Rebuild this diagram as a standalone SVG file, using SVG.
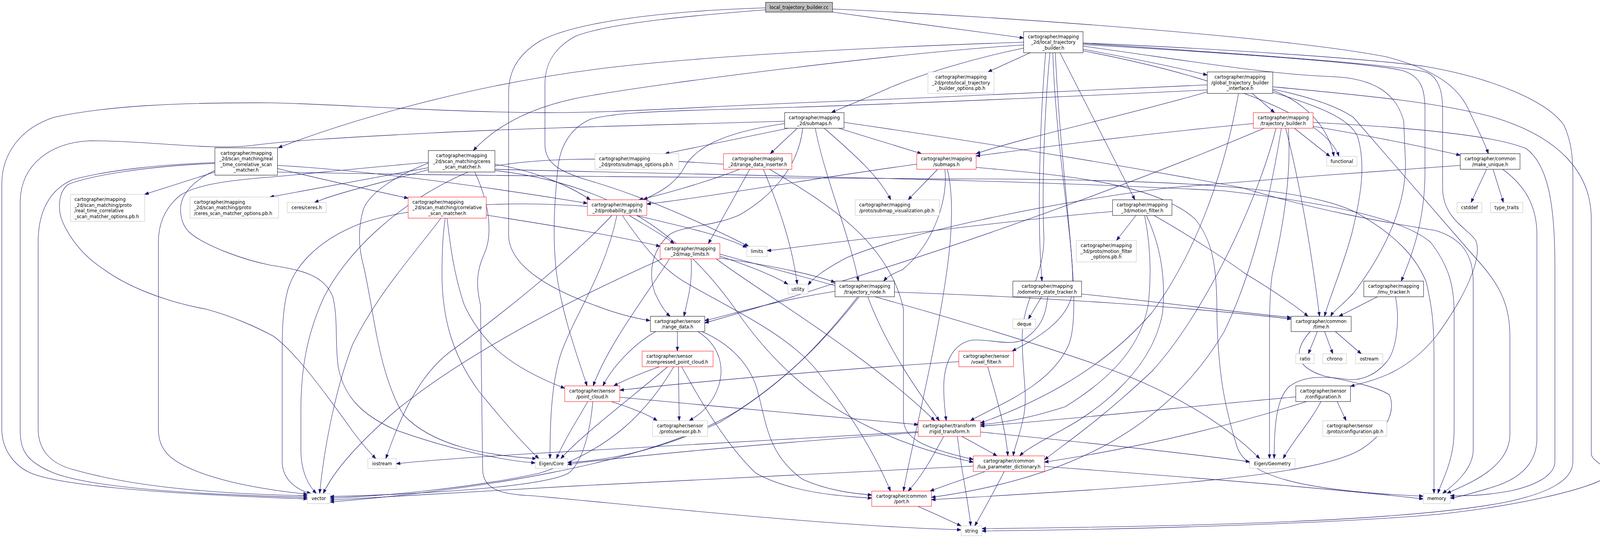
<svg xmlns="http://www.w3.org/2000/svg" width="4480" height="1376" viewBox="0 0 4480 1376">
<defs>
<marker id="ah" markerUnits="userSpaceOnUse" markerWidth="12" markerHeight="9" refX="11" refY="4.5" orient="auto"><path d="M0,0.5 L11,4.5 L0,8.5 z" fill="#191970" stroke="#191970" stroke-width="1"/></marker>
</defs>
<style>
.nd rect{fill:#fff;stroke:#000;stroke-width:1}
.rd rect{stroke:#f00}
.lf rect{stroke:#bfbfbf}
.rt rect{fill:#bfbfbf}
text{font-family:"DejaVu Sans","Liberation Sans",sans-serif;font-size:12.6px;fill:#000;text-anchor:middle}
text.l{text-anchor:start}
#edges path{fill:none;stroke:#191970;stroke-width:1.1;marker-end:url(#ah)}
</style>
<rect width="4480" height="1376" fill="#fff"/>
<g id="diagram" transform="matrix(0.92143 0 0 1 0 0)">
<g id="edges">
<path d="M2313,31 C2480,52 2700,80 2844,97"/>
<path d="M2127,25 C1950,38 1700,57 1600,92 C1533,125 1514,170 1514,215 L1514,370 C1514,420 1560,440 1630,460 C1800,505 1960,575 2080,630"/>
<path d="M2127,20 C1850,28 1600,55 1500,105 C1430,145 1413,190 1413,240 L1413,600 C1413,690 1560,750 1650,780 C1720,805 1770,815 1806,820"/>
<path d="M2313,23 C2900,48 3600,100 3850,145 C4000,180 4055,230 4080,280 C4105,330 4125,365 4135,393"/>
<path d="M2862,135 L2745,184"/>
<path d="M3009,126 C3150,150 3260,170 3354,192"/>
<path d="M2844,123 C2700,150 2560,190 2470,225 C2390,258 2340,275 2310,288"/>
<path d="M2844,108 C2500,118 2000,140 1700,172 C1300,215 950,315 773,378"/>
<path d="M2844,115 C2500,135 1850,210 1620,248 C1480,272 1380,320 1315,385"/>
<path d="M2945,135 L3153,511"/>
<path d="M2905,135 C2890,300 2880,560 2895,719"/>
<path d="M2925,135 C2935,400 2985,620 2980,740 C2975,820 2870,870 2812,898"/>
<path d="M3009,114 C3400,135 3800,160 3895,180 C3950,195 3959,230 3959,280 L3959,440 C3959,560 3925,650 3893,719"/>
<path d="M3009,118 C3300,155 3520,190 3700,196 C3820,200 3880,240 3900,310 L3905,420 C3905,560 3810,690 3760,750 C3730,780 3705,795 3697,809"/>
<path d="M3009,111 C3500,140 3900,168 3964,185 C4000,200 4008,240 4008,280 L4008,480 C4008,560 4080,585 4100,615 C4120,660 4070,760 3990,860 C3910,950 3830,970 3752,988"/>
<path d="M2917,135 C2900,300 2895,500 2900,600 C2905,700 2840,770 2840,860 C2840,960 2855,1000 2845,1060 C2835,1110 2818,1145 2815,1166"/>
<path d="M2932,135 C2950,500 3010,780 2970,880 C2920,990 2760,1040 2696,1076"/>
<path d="M3009,110 C3400,125 3800,150 3960,170 C4150,200 4300,260 4345,320 C4365,360 4370,400 4370,450 L4370,1180 C4370,1230 4300,1262 4180,1285 C3950,1325 3500,1345 2728,1352"/>
<path d="M3009,130 C3350,190 3680,290 3720,400"/>
<path d="M3479,239 L3541,288"/>
<path d="M3354,235 C3150,290 2850,350 2712,393"/>
<path d="M3354,217 C3000,232 2600,250 2220,263 C1900,275 1700,290 1480,288 C1200,285 900,265 750,263 C500,262 300,270 150,300 C50,330 5,400 5,470 L5,1097 C5,1150 40,1190 81,1208 C150,1238 400,1262 854,1276"/>
<path d="M3536,222 C3800,245 4000,262 4150,300 C4330,350 4421,440 4421,560 L4421,1160 C4421,1180 4470,1195 4470,1212 C4460,1240 4250,1290 4000,1315 C3700,1340 3100,1355 2728,1358"/>
<path d="M3536,228 C3650,250 3720,275 3760,300 L4090,650 C4160,720 4195,770 4195,860 L4195,1110 C4195,1200 4070,1240 4020,1262"/>
<path d="M3536,231 C3620,260 3690,320 3706,400"/>
<path d="M3536,236 C3650,268 3750,300 3772,350 C3795,420 3782,500 3755,600 C3728,690 3690,770 3680,809"/>
<path d="M3354,230 C2900,250 2400,270 2000,280 C1800,285 1700,290 1640,305 C1580,330 1555,380 1550,430 C1540,520 1535,600 1545,690 C1560,800 1600,900 1631,987"/>
<path d="M3441,239 C3400,450 3320,650 3200,800 C3050,960 2850,1040 2724,1082"/>
<path d="M3596,328 L3695,400"/>
<path d="M3648,323 C3850,355 3950,375 4057,397"/>
<path d="M3482,316 C3200,340 2950,370 2712,399"/>
<path d="M3648,313 C3900,325 4150,345 4240,380 C4300,420 4320,520 4320,680 L4320,1180 C4320,1215 4270,1240 4200,1255 C4110,1270 4060,1268 4029,1268"/>
<path d="M3545,328 C3500,500 3350,800 3200,950 C3050,1080 2950,1140 2902,1176"/>
<path d="M3560,328 C3530,500 3480,700 3400,850 C3250,1080 3000,1220 2588,1272"/>
<path d="M3572,328 C3620,500 3650,690 3666,809"/>
<path d="M3512,328 C3200,450 2700,620 2300,730 C2100,790 2000,815 1958,826"/>
<path d="M3579,328 C3590,450 3560,600 3535,700 C3528,740 3527,800 3527,850 L3527,1173"/>
<path d="M2190,328 L1848,393"/>
<path d="M2215,328 L2140,393"/>
<path d="M2330,328 L2560,393"/>
<path d="M2290,328 C2380,400 2440,450 2475,511"/>
<path d="M2180,316 C2000,340 1930,380 1900,430 C1870,480 1810,500 1788,511"/>
<path d="M2230,328 C2220,420 2150,500 2054,550 C1980,580 1900,576 1860,600 C1810,640 1800,700 1820,750 C1835,780 1850,800 1862,809"/>
<path d="M2265,328 C2290,450 2360,600 2385,719"/>
<path d="M2180,310 C1900,318 1500,326 1200,340 C950,352 800,360 700,372 C580,385 420,360 250,360 C140,365 56,420 56,520 L56,1097 C56,1150 70,1180 150,1210 C250,1245 500,1264 854,1272"/>
<path d="M2345,313 C2700,360 3100,420 3450,480 C3700,550 3900,575 3990,590 C4060,610 4093,650 4093,720 L4093,1150 C4093,1200 4040,1240 4008,1262"/>
<path d="M597,440 L402,497"/>
<path d="M597,416 C450,420 300,435 200,460 C130,490 106,550 106,620 L106,1097 C106,1150 140,1185 200,1200 C350,1240 550,1262 854,1268"/>
<path d="M597,418 C400,425 250,450 191,471 C160,490 160,540 175,570 C200,620 240,660 290,690 C350,730 450,770 574,791 C650,810 720,840 760,860 C820,900 900,1000 979,1102 C1010,1140 1030,1160 1044,1173"/>
<path d="M771,431 C900,460 1050,490 1134,507"/>
<path d="M771,423 C1000,435 1300,470 1632,520"/>
<path d="M597,436 C540,460 505,495 502,528 C500,560 510,580 526,594 C570,630 680,665 750,678 C830,690 900,700 925,760 C940,820 930,880 940,940 C955,1010 1000,1060 1100,1100 C1250,1150 1400,1178 1487,1184"/>
<path d="M771,440 C1400,452 2200,455 2800,458 C3300,462 3620,480 3760,540 C3880,600 3935,660 3962,720 C3978,780 3984,830 3984,900 L3984,1262"/>
<path d="M1190,429 L750,504"/>
<path d="M1190,434 C1050,470 930,495 874,518"/>
<path d="M1190,415 C1000,430 850,445 750,453 C620,462 540,475 500,500 C460,530 440,570 440,620 L440,1097 C440,1150 470,1180 560,1210 C650,1240 760,1255 854,1264"/>
<path d="M1190,417 C1100,450 1030,490 1010,534 C995,580 995,630 1010,680 C1040,800 1050,950 1120,1060 C1200,1140 1350,1165 1490,1173"/>
<path d="M1375,420 C1500,440 1590,480 1640,511"/>
<path d="M1375,433 C2000,448 2800,458 3400,488 C3700,520 3900,560 3975,620 C4025,680 4040,730 4040,800 L4040,1100 C4040,1180 4005,1230 3995,1262"/>
<path d="M1375,436 C1700,470 1900,600 2050,800 C2200,1000 2400,1120 2704,1182"/>
<path d="M1319,440 C1360,520 1370,600 1345,650 C1320,700 1325,740 1335,780 L1341,1200 C1341,1255 1400,1265 1480,1268 C1800,1295 2300,1345 2670,1355"/>
<path d="M2605,433 L2523,511"/>
<path d="M2547,420 C2300,450 2000,500 1797,522"/>
<path d="M2632,433 C2650,500 2645,600 2631,690 C2600,900 2530,1150 2510,1256"/>
<path d="M2625,433 C2635,500 2600,620 2507,690 C2480,700 2465,708 2455,719"/>
<path d="M2712,428 C2900,445 3200,460 3320,560 C3375,620 3381,700 3381,813 C3385,950 3400,1035 3438,1146 C3470,1215 3600,1255 3954,1269"/>
<path d="M2055,433 C1950,470 1830,500 1775,511"/>
<path d="M2083,433 L1968,623"/>
<path d="M2121,433 C2160,520 2200,620 2215,727"/>
<path d="M2138,433 C2300,520 2470,620 2510,790 L2510,1070 C2510,1120 2560,1145 2704,1175"/>
<path d="M2010,420 C1700,400 1450,400 1300,440 C1100,520 960,650 900,760 C850,860 836,950 836,1050 L836,1150 C836,1210 860,1245 879,1262"/>
<path d="M1767,551 C1900,580 2000,600 2075,633"/>
<path d="M1748,551 C1800,580 1840,600 1873,623"/>
<path d="M1632,528 C1400,510 1100,530 980,580 C880,620 820,680 800,740 C785,790 784,850 784,900 L784,1180 C784,1230 830,1255 864,1262"/>
<path d="M1729,551 C1780,620 1830,680 1900,720 C2050,800 2200,860 2280,960 C2380,1080 2440,1180 2474,1256"/>
<path d="M1700,551 C1600,650 1400,800 1250,900 C1150,970 1100,1100 1072,1173"/>
<path d="M1714,551 C1680,700 1600,800 1560,900 C1530,980 1528,1100 1528,1173"/>
<path d="M1351,550 C1500,572 1700,600 1834,630"/>
<path d="M1225,558 C1150,650 1050,750 980,880 C930,1000 900,1150 888,1262"/>
<path d="M1237,558 C1230,600 1228,650 1228,700 C1228,800 1250,900 1330,1000 C1400,1080 1460,1140 1497,1173"/>
<path d="M1242,558 C1250,620 1260,700 1290,780 C1340,880 1420,940 1569,993"/>
<path d="M3156,551 L3102,615"/>
<path d="M3091,541 C2900,555 2500,600 2230,630 C2180,636 2150,640 2131,641"/>
<path d="M3206,551 C3300,600 3400,660 3460,700 C3550,750 3610,790 3634,809"/>
<path d="M3180,551 C3195,620 3200,700 3190,780 C3170,880 3100,960 2960,1040 C2860,1070 2780,1082 2724,1086"/>
<path d="M3185,551 C3220,620 3240,700 3230,800 C3200,950 3050,1050 2950,1100 C2890,1130 2850,1150 2833,1166"/>
<path d="M4130,433 L4087,518"/>
<path d="M4148,433 L4177,518"/>
<path d="M4175,433 C4230,470 4270,520 4270,600 L4270,1120 C4270,1180 4230,1222 4150,1245 C4090,1262 4050,1272 4029,1274"/>
<path d="M4057,423 C3800,440 3500,460 3250,480 C2900,520 2500,600 2350,660 C2290,690 2260,710 2245,729"/>
<path d="M2000,655 C2080,680 2150,705 2189,727"/>
<path d="M2000,660 C2150,680 2250,700 2320,722"/>
<path d="M1840,662 C1600,760 1300,900 1100,1050 C1000,1130 930,1200 898,1262"/>
<path d="M2000,650 C2400,750 2800,850 3100,950 C3300,1020 3420,1100 3500,1173"/>
<path d="M1920,662 C1925,720 1910,770 1900,809"/>
<path d="M1860,662 C1800,750 1690,880 1648,987"/>
<path d="M1990,662 C2100,740 2400,900 2597,1076"/>
<path d="M2485,747 C2900,760 3300,785 3587,816"/>
<path d="M2411,759 C2460,880 2540,990 2610,1076"/>
<path d="M2387,759 C2300,860 2200,960 2050,1050 C1800,1190 1300,1255 917,1284"/>
<path d="M2383,759 C2280,880 2180,980 2000,1080 C1800,1165 1650,1180 1577,1183"/>
<path d="M2320,745 C2150,770 2050,800 1958,820"/>
<path d="M2894,759 L2857,816"/>
<path d="M3005,752 C3200,770 3400,795 3587,812"/>
<path d="M2911,759 C2905,800 2899,835 2842,870 C2800,885 2746,866 2700,870 C2640,880 2622,940 2622,991 C2622,1030 2626,1055 2629,1076"/>
<path d="M3827,759 L3720,809"/>
<path d="M3877,759 C3890,820 3880,900 3849,929 C3820,960 3780,975 3740,970 C3680,962 3620,960 3580,990 C3548,1020 3540,1080 3540,1173"/>
<path d="M1882,848 L1882,898"/>
<path d="M1822,848 C1760,880 1700,940 1675,987"/>
<path d="M1939,848 C2010,890 2020,960 1980,1020 C1960,1050 1935,1065 1915,1076"/>
<path d="M1950,848 C2030,880 2080,930 2102,991 C2130,1080 2130,1160 2230,1226 C2300,1255 2370,1262 2422,1266"/>
<path d="M3660,848 L3635,905"/>
<path d="M3680,848 L3703,905"/>
<path d="M3710,848 L3782,905"/>
<path d="M3640,848 C3590,900 3600,940 3680,962 C3750,975 3830,990 3860,1010 C3880,1050 3850,1110 3780,1150 C3650,1220 3200,1245 2588,1278"/>
<path d="M1832,938 C1780,955 1740,970 1705,987"/>
<path d="M1855,938 C1750,1020 1620,1110 1558,1173"/>
<path d="M1872,938 C1800,1050 1700,1150 1500,1210 C1300,1250 1050,1270 917,1274"/>
<path d="M1885,938 L1887,1076"/>
<path d="M1894,938 C1960,1050 2030,1150 2100,1210 C2200,1262 2350,1270 2422,1274"/>
<path d="M2664,925 C2400,940 2000,970 1722,998"/>
<path d="M2744,938 C2770,1020 2795,1100 2800,1166"/>
<path d="M1633,1027 C1600,1080 1565,1130 1546,1173"/>
<path d="M1647,1027 C1640,1100 1620,1180 1580,1210 C1500,1250 1100,1266 917,1270"/>
<path d="M1698,1027 C1760,1045 1800,1060 1826,1076"/>
<path d="M1722,1016 C2000,1040 2350,1070 2551,1086"/>
<path d="M3715,1027 L3740,1076"/>
<path d="M3670,1027 C3640,1080 3590,1130 3565,1173"/>
<path d="M3630,1027 C3450,1080 3200,1140 2902,1182"/>
<path d="M3600,1015 C3300,1040 3000,1070 2724,1090"/>
<path d="M2551,1104 C2200,1122 1700,1150 1480,1160 C1300,1170 1180,1178 1101,1186"/>
<path d="M2551,1106 C2200,1130 1800,1160 1577,1188"/>
<path d="M2660,1116 C2670,1200 2690,1280 2697,1345"/>
<path d="M2724,1105 C3000,1130 3300,1160 3472,1181"/>
<path d="M2672,1116 C2710,1135 2740,1150 2770,1166"/>
<path d="M2622,1116 C2590,1170 2560,1220 2523,1256"/>
<path d="M2704,1192 C2300,1210 1500,1245 917,1279"/>
<path d="M2737,1206 C2680,1225 2630,1240 2584,1256"/>
<path d="M2790,1206 C2760,1260 2730,1310 2708,1345"/>
<path d="M2902,1193 C3300,1220 3700,1250 3954,1276"/>
<path d="M2550,1295 C2600,1315 2640,1332 2670,1345"/>
</g>
<g id="n_cc" class="nd rt"><rect x="2127" y="6" width="186" height="25"/><text x="2220" y="22.9">local_trajectory_builder.cc</text></g>
<g id="n_ltb" class="nd"><rect x="2844" y="81" width="165" height="54"/><text x="2926.5" y="97.9">cartographer/mapping</text><text x="2926.5" y="112.4">_2d/local_trajectory</text><text x="2926.5" y="126.9">_builder.h</text></g>
<g id="n_opt" class="nd lf"><rect x="2578" y="184" width="184" height="55"/><text x="2670" y="201.4">cartographer/mapping</text><text x="2670" y="215.9">_2d/proto/local_trajectory</text><text x="2670" y="230.4">_builder_options.pb.h</text></g>
<g id="n_gti" class="nd"><rect x="3354" y="184" width="182" height="55"/><text x="3445" y="201.4">cartographer/mapping</text><text x="3445" y="215.9">/global_trajectory_builder</text><text x="3445" y="230.4">_interface.h</text></g>
<g id="n_sm2" class="nd"><rect x="2180" y="288" width="165" height="40"/><text x="2262.5" y="305.1">cartographer/mapping</text><text x="2262.5" y="319.6">_2d/submaps.h</text></g>
<g id="n_tb" class="nd rd"><rect x="3482" y="288" width="166" height="40"/><text x="3565" y="305.1">cartographer/mapping</text><text x="3565" y="319.6">/trajectory_builder.h</text></g>
<g id="n_rt" class="nd"><rect x="597" y="378" width="174" height="70"/><text x="684" y="395.6">cartographer/mapping</text><text x="684" y="410.1">_2d/scan_matching/real</text><text x="684" y="424.6">_time_correlative_scan</text><text x="684" y="439.1">_matcher.h</text></g>
<g id="n_ce" class="nd"><rect x="1190" y="385" width="185" height="55"/><text x="1282.5" y="402.4">cartographer/mapping</text><text x="1282.5" y="416.9">_2d/scan_matching/ceres</text><text x="1282.5" y="431.4">_scan_matcher.h</text></g>
<g id="n_msm" class="nd rd"><rect x="2547" y="393" width="165" height="40"/><text x="2629.5" y="410.1">cartographer/mapping</text><text x="2629.5" y="424.6">/submaps.h</text></g>
<g id="n_rdi" class="nd rd"><rect x="2010" y="393" width="190" height="40"/><text x="2105" y="410.1">cartographer/mapping</text><text x="2105" y="424.6">_2d/range_data_inserter.h</text></g>
<g id="n_smo" class="nd lf"><rect x="1653" y="393" width="233" height="40"/><text class="l" x="1664" y="410.1">cartographer/mapping</text><text class="l" x="1664" y="424.6">_2d/proto/submaps_options.pb.h</text></g>
<g id="n_fun" class="nd lf"><rect x="3686" y="400" width="84" height="25"/><text x="3728" y="416.9">functional</text></g>
<g id="n_mu" class="nd"><rect x="4057" y="393" width="166" height="40"/><text x="4140" y="410.1">cartographer/common</text><text x="4140" y="424.6">/make_unique.h</text></g>
<g id="n_rto" class="nd lf"><rect x="196" y="497" width="206" height="69"/><text class="l" x="207" y="514.1">cartographer/mapping</text><text class="l" x="207" y="528.6">_2d/scan_matching/proto</text><text class="l" x="207" y="543.1">/real_time_correlative</text><text class="l" x="207" y="557.6">_scan_matcher_options.pb.h</text></g>
<g id="n_ceo" class="nd lf"><rect x="528" y="504" width="246" height="54"/><text class="l" x="539" y="520.9">cartographer/mapping</text><text class="l" x="539" y="535.4">_2d/scan_matching/proto</text><text class="l" x="539" y="549.9">/ceres_scan_matcher_options.pb.h</text></g>
<g id="n_ceres" class="nd lf"><rect x="798" y="518" width="108" height="26"/><text x="852" y="535.4">ceres/ceres.h</text></g>
<g id="n_cor" class="nd rd"><rect x="1134" y="504" width="217" height="54"/><text class="l" x="1146" y="520.9">cartographer/mapping</text><text class="l" x="1146" y="535.4">_2d/scan_matching/correlative</text><text x="1242.5" y="549.9">_scan_matcher.h</text></g>
<g id="n_pg" class="nd rd"><rect x="1632" y="511" width="165" height="40"/><text x="1714.5" y="528.1">cartographer/mapping</text><text x="1714.5" y="542.6">_2d/probability_grid.h</text></g>
<g id="n_sv" class="nd lf"><rect x="2376" y="511" width="234" height="40"/><text class="l" x="2387" y="528.1">cartographer/mapping</text><text class="l" x="2387" y="542.6">/proto/submap_visualization.pb.h</text></g>
<g id="n_mf" class="nd"><rect x="3091" y="511" width="165" height="40"/><text x="3173.5" y="528.1">cartographer/mapping</text><text x="3173.5" y="542.6">_3d/motion_filter.h</text></g>
<g id="n_cst" class="nd lf"><rect x="4048" y="518" width="69" height="26"/><text x="4082.5" y="535.4">cstddef</text></g>
<g id="n_tt" class="nd lf"><rect x="4141" y="518" width="90" height="26"/><text x="4186" y="535.4">type_traits</text></g>
<g id="n_mfo" class="nd lf"><rect x="2990" y="615" width="167" height="55"/><text x="3073.5" y="632.4">cartographer/mapping</text><text x="3073.5" y="646.9">_3d/proto/motion_filter</text><text x="3073.5" y="661.4">_options.pb.h</text></g>
<g id="n_ml" class="nd rd"><rect x="1834" y="623" width="166" height="39"/><text x="1917" y="639.6">cartographer/mapping</text><text x="1917" y="654.1">_2d/map_limits.h</text></g>
<g id="n_lim" class="nd lf"><rect x="2075" y="630" width="56" height="26"/><text x="2103" y="647.4">limits</text></g>
<g id="n_ut" class="nd lf"><rect x="2189" y="727" width="56" height="25"/><text x="2217" y="743.9">utility</text></g>
<g id="n_tn" class="nd"><rect x="2320" y="719" width="165" height="40"/><text x="2402.5" y="736.1">cartographer/mapping</text><text x="2402.5" y="750.6">/trajectory_node.h</text></g>
<g id="n_ost" class="nd"><rect x="2814" y="719" width="191" height="40"/><text x="2909.5" y="736.1">cartographer/mapping</text><text x="2909.5" y="750.6">/odometry_state_tracker.h</text></g>
<g id="n_imu" class="nd"><rect x="3789" y="719" width="166" height="40"/><text x="3872" y="736.1">cartographer/mapping</text><text x="3872" y="750.6">/imu_tracker.h</text></g>
<g id="n_rd" class="nd"><rect x="1807" y="809" width="151" height="39"/><text x="1882.5" y="825.6">cartographer/sensor</text><text x="1882.5" y="840.1">/range_data.h</text></g>
<g id="n_time" class="nd"><rect x="3587" y="809" width="167" height="39"/><text x="3670.5" y="825.6">cartographer/common</text><text x="3670.5" y="840.1">/time.h</text></g>
<g id="n_dq" class="nd lf"><rect x="2814" y="816" width="63" height="25"/><text x="2845.5" y="832.9">deque</text></g>
<g id="n_cpc" class="nd rd"><rect x="1784" y="898" width="197" height="40"/><text class="l" x="1796" y="915.1">cartographer/sensor</text><text class="l" x="1796" y="929.6">/compressed_point_cloud.h</text></g>
<g id="n_vox" class="nd rd"><rect x="2664" y="898" width="152" height="40"/><text x="2740" y="915.1">cartographer/sensor</text><text x="2740" y="929.6">/voxel_filter.h</text></g>
<g id="n_rat" class="nd lf"><rect x="3600" y="905" width="51" height="25"/><text x="3625.5" y="921.9">ratio</text></g>
<g id="n_chr" class="nd lf"><rect x="3675" y="905" width="66" height="25"/><text x="3708" y="921.9">chrono</text></g>
<g id="n_ost2" class="nd lf"><rect x="3766" y="905" width="76" height="25"/><text x="3804" y="921.9">ostream</text></g>
<g id="n_pc" class="nd rd"><rect x="1569" y="987" width="153" height="40"/><text x="1645.5" y="1004.1">cartographer/sensor</text><text x="1645.5" y="1018.6">/point_cloud.h</text></g>
<g id="n_cfg" class="nd"><rect x="3600" y="987" width="152" height="40"/><text x="3676" y="1004.1">cartographer/sensor</text><text x="3676" y="1018.6">/configuration.h</text></g>
<g id="n_spb" class="nd lf"><rect x="1813" y="1076" width="153" height="40"/><text x="1889.5" y="1093.1">cartographer/sensor</text><text x="1889.5" y="1107.6">/proto/sensor.pb.h</text></g>
<g id="n_rig" class="nd rd"><rect x="2551" y="1076" width="173" height="40"/><text x="2637.5" y="1093.1">cartographer/transform</text><text x="2637.5" y="1107.6">/rigid_transform.h</text></g>
<g id="n_cpb" class="nd lf"><rect x="3675" y="1076" width="178" height="40"/><text class="l" x="3686" y="1093.1">cartographer/sensor</text><text class="l" x="3686" y="1107.6">/proto/configuration.pb.h</text></g>
<g id="n_ios" class="nd lf"><rect x="1022" y="1173" width="79" height="25"/><text x="1061.5" y="1189.9">iostream</text></g>
<g id="n_ec" class="nd lf"><rect x="1487" y="1173" width="90" height="25"/><text x="1532" y="1189.9">Eigen/Core</text></g>
<g id="n_eg" class="nd lf"><rect x="3472" y="1173" width="126" height="25"/><text x="3535" y="1189.9">Eigen/Geometry</text></g>
<g id="n_lua" class="nd rd"><rect x="2704" y="1166" width="198" height="40"/><text x="2803" y="1183.1">cartographer/common</text><text x="2803" y="1197.6">/lua_parameter_dictionary.h</text></g>
<g id="n_vec" class="nd lf"><rect x="854" y="1262" width="63" height="26"/><text x="885.5" y="1279.4">vector</text></g>
<g id="n_port" class="nd rd"><rect x="2422" y="1256" width="166" height="39"/><text x="2505" y="1272.6">cartographer/common</text><text x="2505" y="1287.1">/port.h</text></g>
<g id="n_mem" class="nd lf"><rect x="3954" y="1262" width="75" height="26"/><text x="3991.5" y="1279.4">memory</text></g>
<g id="n_str" class="nd lf"><rect x="2670" y="1345" width="58" height="25"/><text x="2699" y="1361.9">string</text></g>
</g>
</svg>
